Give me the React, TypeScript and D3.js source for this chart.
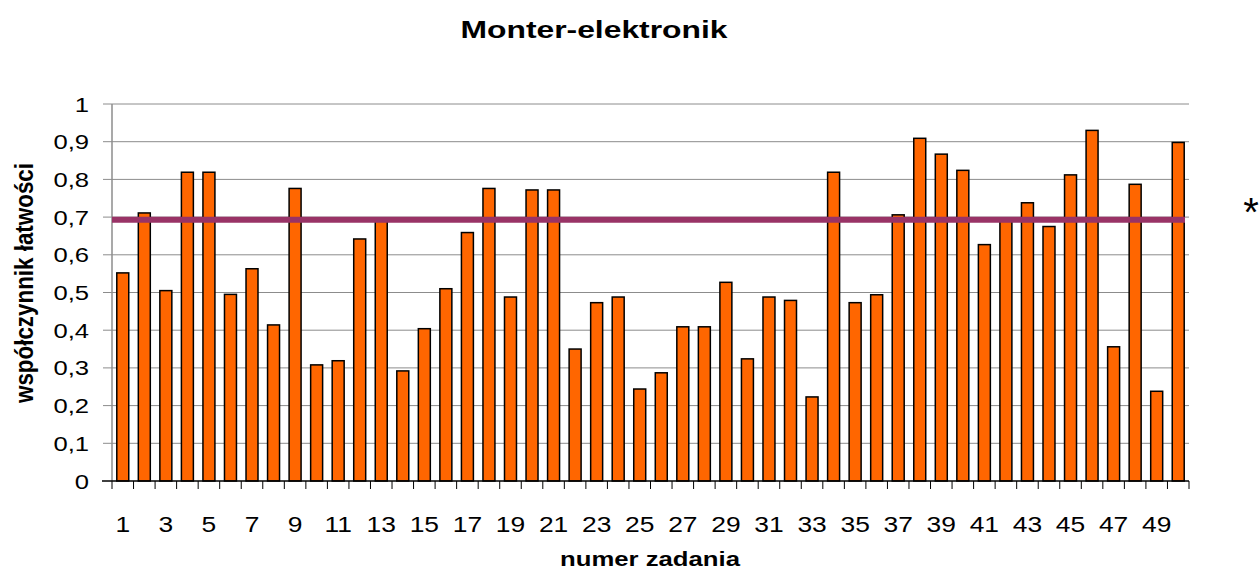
import React, { useEffect, useRef } from "react";
import * as d3 from "d3";

const taskNumbers = [
  1, 2, 3, 4, 5, 6, 7, 8, 9, 10, 11, 12, 13, 14, 15, 16, 17, 18, 19, 20, 21, 22, 23, 24, 25,
  26, 27, 28, 29, 30, 31, 32, 33, 34, 35, 36, 37, 38, 39, 40, 41, 42, 43, 44, 45, 46, 47, 48, 49, 50,
];

const easiness = [
  0.552, 0.711, 0.505, 0.819, 0.819, 0.495, 0.563, 0.414, 0.776, 0.308,
  0.319, 0.642, 0.69, 0.292, 0.404, 0.51, 0.659, 0.776, 0.488, 0.772,
  0.772, 0.35, 0.473, 0.488, 0.244, 0.287, 0.409, 0.409, 0.527, 0.324,
  0.488, 0.479, 0.223, 0.819, 0.473, 0.494, 0.706, 0.909, 0.867, 0.824,
  0.627, 0.69, 0.738, 0.675, 0.812, 0.93, 0.356, 0.787, 0.238, 0.898,
];

const averageEasiness = 0.693;

const yTickValues = [0, 0.1, 0.2, 0.3, 0.4, 0.5, 0.6, 0.7, 0.8, 0.9, 1];
const yTickLabels = ["0", "0,1", "0,2", "0,3", "0,4", "0,5", "0,6", "0,7", "0,8", "0,9", "1"];

const xTickLabels = [
  "1", "3", "5", "7", "9", "11", "13", "15", "17", "19", "21", "23", "25",
  "27", "29", "31", "33", "35", "37", "39", "41", "43", "45", "47", "49",
];

const titleText = "Monter-elektronik";
const xTitle = "numer zadania";
const yTitle = "współczynnik łatwości";

function App() {
  const ref = useRef<SVGSVGElement>(null);

  let dims = {
    width: 1260,
    height: 570,
    padding: { top: 104, left: 112, right: 71, bottom: 89 },
  };

  let barColor = "#ff6600";
  let lineColor = "#993366";
  let gridColor = "#8c8c8c";
  let font = "'Liberation Sans', Arial, sans-serif";

  useEffect(() => {
    document.body.style.margin = "0";

    const svg = d3.select(ref.current);
    svg.selectAll("*").remove();

    const left = dims.padding.left;
    const right = dims.width - dims.padding.right;
    const top = dims.padding.top;
    const bottom = dims.height - dims.padding.bottom;

    const x = d3
      .scaleBand<number>()
      .domain(taskNumbers)
      .range([left, right])
      .paddingInner(0.444)
      .paddingOuter(0.222);

    const y = d3.scaleLinear().domain([0, 1]).range([bottom, top]);

    // gridlines with small ticks on the left
    svg
      .selectAll(".grid")
      .data(yTickValues.slice(1))
      .enter()
      .append("line")
      .attr("x1", left - 9)
      .attr("x2", right)
      .attr("y1", (d) => y(d))
      .attr("y2", (d) => y(d))
      .style("stroke", gridColor)
      .style("stroke-width", 1);

    // y axis line
    svg
      .append("line")
      .attr("x1", left)
      .attr("x2", left)
      .attr("y1", top)
      .attr("y2", bottom)
      .style("stroke", gridColor)
      .style("stroke-width", 1.5);

    // y tick labels
    svg
      .selectAll(".ylab")
      .data(yTickValues)
      .enter()
      .append("text")
      .attr("transform", (d) => "translate(" + (left - 23) + "," + (y(d) + 7.5) + ") scale(1.25,1)")
      .attr("text-anchor", "end")
      .style("font-family", font)
      .style("font-size", "20.5px")
      .style("fill", "#000")
      .text((d, i) => yTickLabels[i]);

    // bars
    svg
      .selectAll(".bar")
      .data(easiness)
      .enter()
      .append("rect")
      .attr("x", (d, i) => x(taskNumbers[i])!)
      .attr("y", (d) => y(d))
      .attr("width", x.bandwidth())
      .attr("height", (d) => y(0) - y(d))
      .style("fill", barColor)
      .style("stroke", "#000")
      .style("stroke-width", 1.5);

    // x axis line and category ticks
    svg
      .append("line")
      .attr("x1", left - 10)
      .attr("x2", right)
      .attr("y1", bottom)
      .attr("y2", bottom)
      .style("stroke", "#000")
      .style("stroke-width", 1.5);

    const step = x.step();
    svg
      .selectAll(".xtick")
      .data(d3.range(taskNumbers.length + 1))
      .enter()
      .append("line")
      .attr("x1", (d) => left + d * step)
      .attr("x2", (d) => left + d * step)
      .attr("y1", bottom)
      .attr("y2", bottom + 8)
      .style("stroke", "#000")
      .style("stroke-width", 1);

    svg
      .selectAll(".xlab")
      .data(xTickLabels)
      .enter()
      .append("text")
      .attr("transform", (d) => "translate(" + (x(+d)! + x.bandwidth() / 2) + "," + (bottom + 51) + ") scale(1.2,1)")
      .attr("text-anchor", "middle")
      .style("font-family", font)
      .style("font-size", "22px")
      .style("fill", "#000")
      .text((d) => d);

    // average line
    svg
      .append("line")
      .attr("x1", left)
      .attr("x2", right - 4)
      .attr("y1", y(averageEasiness))
      .attr("y2", y(averageEasiness))
      .style("stroke", lineColor)
      .style("stroke-width", 6);

    // asterisk
    svg
      .append("text")
      .attr("x", 1251)
      .attr("y", y(averageEasiness) + 6)
      .attr("text-anchor", "middle")
      .style("font-family", font)
      .style("font-size", "40px")
      .text("*");

    // title
    svg
      .append("text")
      .attr("x", 594)
      .attr("y", 38)
      .attr("text-anchor", "middle")
      .attr("textLength", 267)
      .attr("lengthAdjust", "spacingAndGlyphs")
      .style("font-family", font)
      .style("font-size", "23.5px")
      .style("font-weight", "bold")
      .text(titleText);

    // axis titles
    svg
      .append("text")
      .attr("x", 650)
      .attr("y", 566)
      .attr("text-anchor", "middle")
      .attr("textLength", 180)
      .attr("lengthAdjust", "spacingAndGlyphs")
      .style("font-family", font)
      .style("font-size", "21px")
      .style("font-weight", "bold")
      .text(xTitle);

    svg
      .append("text")
      .attr("transform", "translate(33,283) scale(1.3,1) rotate(-90)")
      .attr("text-anchor", "middle")
      .attr("textLength", 240)
      .attr("lengthAdjust", "spacingAndGlyphs")
      .style("font-family", font)
      .style("font-size", "19.5px")
      .style("font-weight", "bold")
      .text(yTitle);
  }, []);

  return (
    <svg
      ref={ref}
      width={dims.width}
      height={dims.height}
      style={{ display: "block", background: "#fff" }}
    ></svg>
  );
}

export default App;
